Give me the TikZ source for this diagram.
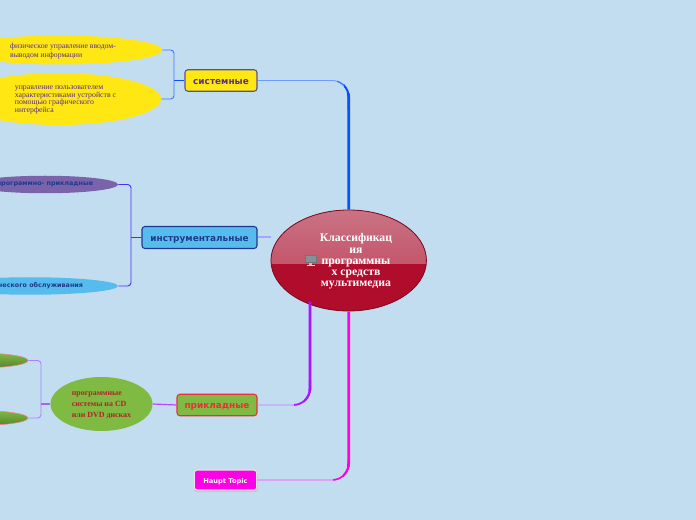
\documentclass[tikz,border=0pt]{standalone}
\usepackage{fontspec}
\setmainfont{Liberation Serif}
\newfontfamily\dvs{DejaVu Sans}
\usetikzlibrary{shapes.geometric}
\definecolor{bgc}{HTML}{C3DDF0}
\definecolor{yel}{HTML}{FFE714}
\definecolor{sky}{HTML}{56BCEE}
\definecolor{grn}{HTML}{7FBB42}
\definecolor{vio}{HTML}{7B63AC}
\definecolor{crim}{HTML}{B00C2C}
\definecolor{mag}{HTML}{FF00E6}
\definecolor{txp}{HTML}{5A2D8C}
\definecolor{txb}{HTML}{1E3A8C}
\definecolor{txr}{HTML}{E8303A}
\definecolor{mainb}{HTML}{0A50FF}
\definecolor{midb}{HTML}{3A78FF}
\definecolor{lightb}{HTML}{6C9CFF}
\definecolor{purp}{HTML}{A915FF}
\definecolor{lightp}{HTML}{C4A4FF}
\definecolor{insb}{HTML}{4A2CFF}
\definecolor{appb}{HTML}{B080FF}
\definecolor{lightm}{HTML}{F080FF}
\tikzset{
 x=0.75pt,y=-0.75pt,
 topic/.style={draw,rounded corners=2.2pt,line width=0.8pt,inner sep=0pt,text height=5.6pt,text depth=0pt,font=\dvs\bfseries\fontsize{6.7pt}{8pt}\selectfont},
 oval/.style={ellipse,inner sep=0pt,align=left},
 smalltxt/.style={align=left,inner sep=0pt,yshift=-0.75pt,xshift=2.25pt,font=\fontsize{5.8pt}{6.3pt}\selectfont,text=txp},
 smalltxtb/.style={align=left,inner sep=0pt,yshift=-0.75pt,xshift=4.9pt,font=\fontsize{5.85pt}{5.8pt}\selectfont,text=txp},
 sanstxt/.style={font=\dvs\bfseries\fontsize{4.8pt}{5pt}\selectfont,text=txb},
 br/.style={rounded corners=2.5pt,line width=0.7pt},
 rr/.style={rounded corners=12.5pt},
}
\begin{document}
\begin{tikzpicture}
\useasboundingbox (0,0) rectangle (696,520);
\fill[bgc] (0,0) rectangle (696,520);
\clip (0,0) rectangle (696,520);
% nodes
\node[ellipse,inner sep=0pt,minimum width=155.5*0.75pt,minimum height=101*0.75pt,draw=crim!70!black,line width=0.6pt,fill=crim,
 path picture={\shade[top color=crim!55!white!95!black,bottom color=crim!80!white] (path picture bounding box.north west) rectangle ([yshift=-54*0.75pt]path picture bounding box.north east);}] (center) at (348.7,260.5) {};
\node[align=center,text=white,font=\bfseries\fontsize{8.8pt}{8.45pt}\selectfont] (centertxt) at (356,261.5) {Классификац\\ия\\программны\\х средств\\мультимедиа};
\node[topic,fill=yel,draw=vio!80!black,text=txp,minimum width=72*0.75pt,minimum height=21.5*0.75pt] (sys) at (221,80.5) {системные};
\node[topic,fill=sky,draw=txb,text=txb,minimum width=115*0.75pt,minimum height=22*0.75pt] (ins) at (199.5,237.5) {инструментальные};
\node[topic,fill=grn,draw=txr,text=txr,minimum width=80*0.75pt,minimum height=21.5*0.75pt] (app) at (217,405) {прикладные};
\fill[black!22,rounded corners=2pt] (194,472) rectangle (258,492);
\node[topic,fill=mag,draw=white!90!black,text=white,minimum width=62.5*0.75pt,minimum height=20*0.75pt,text height=5.2pt,font=\dvs\bfseries\fontsize{5pt}{6pt}\selectfont] (hau) at (225.5,480) {Haupt Topic};
\node[oval,fill=yel,minimum width=204*0.75pt,minimum height=29*0.75pt,label={[smalltxt]center:физическое управление вводом-\\выводом информации}] (s1) at (60,50) {};
\node[oval,fill=yel,minimum width=204*0.75pt,minimum height=52*0.75pt,label={[smalltxtb]center:управление пользователем\\характеристиками устройств с\\помощью графического\\интерфейса}] (s2) at (59,99) {};
\node[oval,fill=vio,minimum width=146*0.75pt,minimum height=17.5*0.75pt,sanstxt] (i1) at (45,184.5) {программно- прикладные};
\node[oval,fill=sky,minimum width=176*0.75pt,minimum height=17.5*0.75pt,sanstxt] (i2) at (30,286) {технического обслуживания};
\node[oval,fill=grn,minimum width=102*0.75pt,minimum height=54*0.75pt,label={[align=left,inner sep=0pt,yshift=-1.1pt,text=txr!75!black,font=\bfseries\fontsize{5.95pt}{8.3pt}\selectfont]center:программные\\системы на CD\\или DVD дисках}] (a0) at (101.5,404) {};
\node[oval,draw=txr!60,line width=0.4pt,top color=grn,bottom color=grn!70!black,minimum width=100*0.75pt,minimum height=15*0.75pt] (a1) at (-22,360.5) {};
\node[oval,draw=txr!60,line width=0.4pt,top color=grn,bottom color=grn!70!black,minimum width=100*0.75pt,minimum height=15*0.75pt] (a2) at (-22,418) {};
% main connectors
\draw[rr,line width=0.7pt,color=lightb] (sys.east) -| (center.north);
\begin{scope}\clip (337,60) rectangle (360,110);
\draw[rr,line width=1pt,color=midb] (sys.east) -| (center.north);\end{scope}
\begin{scope}\clip (344,60) rectangle (360,110);
\draw[rr,line width=1.5pt,color=mainb] (sys.east) -| (center.north);\end{scope}
\begin{scope}\clip (340,94) rectangle (360,211);
\draw[rr,line width=2pt,color=mainb] (sys.east) -| (center.north);\end{scope}
\draw[line width=1.5pt,color=blue!35!white] (ins.east) -- (center.west |- ins.east);
\coordinate (appup) at (310,302);
\draw[rr,line width=1.1pt,color=lightp] (app.east) -| (appup);
\begin{scope}\clip (294,380) rectangle (320,410);
\draw[rr,line width=1.3pt,color=purp] (app.east) -| (appup);\end{scope}
\begin{scope}\clip (304,380) rectangle (320,410);
\draw[rr,line width=1.7pt,color=purp] (app.east) -| (appup);\end{scope}
\begin{scope}\clip (300,300) rectangle (320,390);
\draw[rr,line width=2.1pt,color=purp] (app.east) -| (appup);\end{scope}
\draw[rr,line width=0.9pt,color=lightm] (hau.east) -| (center.south);
\begin{scope}\clip (333,460) rectangle (360,490);
\draw[rr,line width=1.2pt,color=mag] (hau.east) -| (center.south);\end{scope}
\begin{scope}\clip (343,460) rectangle (360,490);
\draw[rr,line width=1.6pt,color=mag] (hau.east) -| (center.south);\end{scope}
\begin{scope}\clip (340,311) rectangle (360,466);
\draw[rr,line width=2pt,color=mag] (hau.east) -| (center.south);\end{scope}
% brackets
\coordinate (sb) at (174,80.5);\coordinate (ib) at (131,237.5);\coordinate (ab) at (41,404);
\draw[br,color=midb] (s1.east) -| (sb) |- (s2.east);
\draw[line width=0.9pt,color=mainb] (sys.west) -- (sb);
\draw[br,color=insb] (i1.east) -| (ib) |- (i2.east);
\draw[line width=1.3pt,color=insb] (ins.west) -- (ib);
\draw[br,color=appb] (a1.east) -| (ab) |- (a2.east);
\draw[line width=0.8pt,color=appb!80!violet] (a0.west) -- (ab);
\draw[line width=0.9pt,color=purp!80!white] (a0.east) -- (app.west);
% monitor icon
\fill[black!55] (304.5,255) rectangle (316.5,263);
\fill[black!30!cyan!20!gray] (305.5,256) rectangle (315.5,262);
\fill[black!25] (309,263) rectangle (312,265);
\fill[black!10] (306.5,265) rectangle (314.5,266.5);
\end{tikzpicture}
\end{document}
